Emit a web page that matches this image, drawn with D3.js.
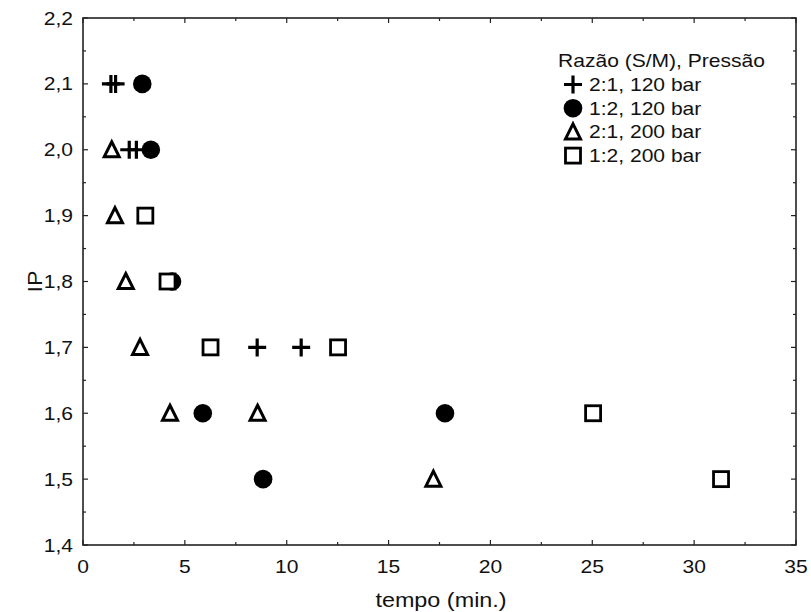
<!DOCTYPE html>
<html>
<head>
<meta charset="utf-8">
<script src="https://cdn.jsdelivr.net/npm/d3@7/dist/d3.min.js"></script>
<style>
  html, body { margin: 0; padding: 0; background: #fff; }
  text { font-family: "Liberation Sans", Arial, sans-serif; fill: #111; }
</style>
</head>
<body>
<svg id="chart" width="811" height="612"></svg>
<script>
// IP versus time for each ratio / pressure condition
const seriesNames = ["2:1, 120 bar", "1:2, 120 bar", "2:1, 200 bar", "1:2, 200 bar"];
const plus120 = [[1.37, 2.1], [1.60, 2.1], [2.27, 2.0], [2.62, 2.0], [8.55, 1.7], [10.71, 1.7]];
const circle120 = [[2.91, 2.1], [3.33, 2.0], [4.37, 1.8], [5.88, 1.6], [8.84, 1.5], [17.77, 1.6]];
const triangle200 = [[1.41, 2.0], [1.57, 1.9], [2.10, 1.8], [2.80, 1.7], [4.27, 1.6], [8.57, 1.6], [17.20, 1.5]];
const square200 = [[3.06, 1.9], [4.15, 1.8], [6.26, 1.7], [12.52, 1.7], [25.04, 1.6], [31.32, 1.5]];
const xTicks = [0, 5, 10, 15, 20, 25, 30, 35];
const yTicks = [1.4, 1.5, 1.6, 1.7, 1.8, 1.9, 2.0, 2.1, 2.2];
const xTitle = "tempo (min.)";
const yTitle = "IP";
const legendTitle = "Razão (S/M), Pressão";

const svg = d3.select("#chart");
const L = 83, R = 796, T = 18, B = 545;
const SX = 1.17;          // horizontal text stretch
const FS = 18;

const x = d3.scaleLinear().domain([0, 35]).range([L, R]);
const y = d3.scaleLinear().domain([1.4, 2.2]).range([B, T]);

const fmt = d => d3.format(".1f")(d).replace(".", ",");

function label(parent, px, py, str, anchor, size, rot) {
  const g = parent.append("g")
    .attr("transform", `translate(${px},${py})` + (rot ? ` rotate(${rot})` : "") + ` scale(${SX},1)`);
  g.append("text").attr("text-anchor", anchor).style("font-size", size + "px").text(str);
  return g;
}

// frame
svg.append("rect").attr("x", L).attr("y", T).attr("width", R - L).attr("height", B - T)
  .attr("fill", "none").attr("stroke", "#222").attr("stroke-width", 1.6);

// ticks, inward on all four sides
const xMinor = d3.range(0, 35.01, 2.5);
const yMinor = d3.range(1.4, 2.2001, 0.05);
const tickG = svg.append("g").attr("stroke", "#222").attr("stroke-width", 1.2);
xMinor.forEach(v => {
  const len = Math.abs(v % 5) < 1e-6 ? 5 : 3;
  tickG.append("line").attr("x1", x(v)).attr("x2", x(v)).attr("y1", B).attr("y2", B - len);
  tickG.append("line").attr("x1", x(v)).attr("x2", x(v)).attr("y1", T).attr("y2", T + len);
});
yMinor.forEach((v, i) => {
  const len = i % 2 === 0 ? 5 : 3;
  tickG.append("line").attr("x1", L).attr("x2", L + len).attr("y1", y(v)).attr("y2", y(v));
  tickG.append("line").attr("x1", R).attr("x2", R - len).attr("y1", y(v)).attr("y2", y(v));
});

// tick labels
xTicks.forEach(v => label(svg, x(v), B + 28, String(v), "middle", FS));
yTicks.forEach(v => label(svg, 73, y(v) + 6.5, fmt(v), "end", FS));

// axis titles
label(svg, 441, 607, xTitle, "middle", 20);
label(svg, 42, y(1.8), yTitle, "middle", 20, -90);

// marker drawing
const markG = svg.append("g");
function drawPlus(g, cx, cy) {
  g.append("path").attr("d", `M${cx - 9},${cy}H${cx + 9}M${cx},${cy - 9}V${cy + 9}`)
    .attr("stroke", "#000").attr("stroke-width", 3.2).attr("fill", "none");
}
function drawCircle(g, cx, cy) {
  g.append("circle").attr("cx", cx).attr("cy", cy).attr("r", 9.3).attr("fill", "#000");
}
function drawTriangle(g, cx, cy) {
  g.append("path").attr("d", `M${cx},${cy - 8}L${cx + 7.5},${cy + 7}L${cx - 7.5},${cy + 7}Z`)
    .attr("stroke", "#000").attr("stroke-width", 3).attr("fill", "#fff").attr("stroke-linejoin", "miter");
}
function drawSquare(g, cx, cy) {
  g.append("rect").attr("x", cx - 7.5).attr("y", cy - 7.5).attr("width", 15).attr("height", 15)
    .attr("stroke", "#000").attr("stroke-width", 2.8).attr("fill", "#fff");
}

plus120.forEach(d => drawPlus(markG, x(d[0]), y(d[1])));
circle120.forEach(d => drawCircle(markG, x(d[0]), y(d[1])));
triangle200.forEach(d => drawTriangle(markG, x(d[0]), y(d[1])));
square200.forEach(d => drawSquare(markG, x(d[0]), y(d[1])));

// legend
const leg = svg.append("g");
label(leg, 558, 67, legendTitle, "start", FS);
const drawers = [drawPlus, drawCircle, drawTriangle, drawSquare];
seriesNames.forEach((name, i) => {
  const cy = 84.5 + i * 23.7;
  drawers[i](leg, 573, cy);
  label(leg, 589, cy + 6.5, name, "start", FS);
});
</script>
</body>
</html>
